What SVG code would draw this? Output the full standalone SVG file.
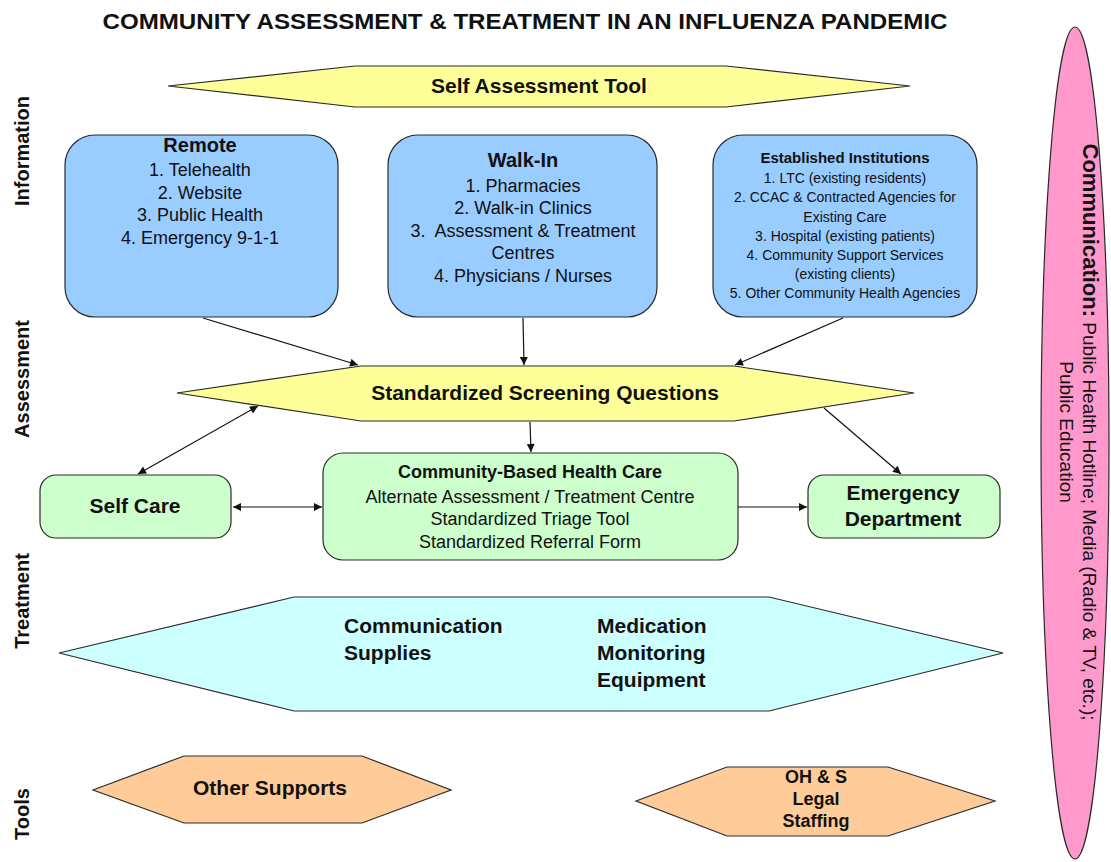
<svg xmlns="http://www.w3.org/2000/svg" width="1111" height="862" viewBox="0 0 1111 862">
<defs>
<style>
text{font-family:"Liberation Sans",Arial,sans-serif;fill:#111}
.b{font-weight:bold}
.c{text-anchor:middle}
.shape{stroke:#2a2a2a;stroke-width:1.2}
.blue{fill:#99ccff}
.yel{fill:#ffff99}
.grn{fill:#ccffcc}
.cyan{fill:#ccffff}
.org{fill:#ffcc99}
.pink{fill:#ff99cc}
.conn{stroke:#111;stroke-width:1.2;fill:none}
</style>
<marker id="ah" viewBox="0 0 10 10" refX="10" refY="5" markerWidth="10" markerHeight="8" markerUnits="userSpaceOnUse" orient="auto-start-reverse">
<path d="M0,0 L10,5 L0,10 z" fill="#111"/>
</marker>
</defs>
<rect width="1111" height="862" fill="#fff"/>

<text class="b c" x="525" y="29" font-size="22" textLength="845" lengthAdjust="spacingAndGlyphs">COMMUNITY ASSESSMENT &amp; TREATMENT IN AN INFLUENZA PANDEMIC</text>

<g id="lane-labels" class="b">
<text class="c" font-size="20" transform="translate(22,151) rotate(-90)" y="7">Information</text>
<text class="c" font-size="20" transform="translate(22,379) rotate(-90)" y="7">Assessment</text>
<text class="c" font-size="20" transform="translate(22,601) rotate(-90)" y="7">Treatment</text>
<text class="c" font-size="20" transform="translate(22,814) rotate(-90)" y="7">Tools</text>
</g>

<g id="communication">
<ellipse class="shape pink" cx="1075" cy="443" rx="34" ry="416"/>
<g transform="translate(1090,432) rotate(90)">
<text class="c" y="7" font-size="19"><tspan class="b" font-size="22">Communication:</tspan> Public Health Hotline; Media (Radio &amp; TV, etc.);</text>
<text class="c" y="30" font-size="19">Public Education</text>
</g>
</g>

<g id="self-assessment">
<polygon class="shape yel" points="168,86 355,66 726,66 910,86 726,107 355,107"/>
<text class="b c" x="539" y="93" font-size="21">Self Assessment Tool</text>
</g>

<g id="remote">
<rect class="shape blue" x="65" y="135" width="273" height="182" rx="30"/>
<text class="b c" x="200" y="152" font-size="20">Remote</text>
<text class="c" x="200" y="176" font-size="18">1. Telehealth</text>
<text class="c" x="200" y="199" font-size="18">2. Website</text>
<text class="c" x="200" y="221" font-size="18">3. Public Health</text>
<text class="c" x="200" y="244" font-size="18">4. Emergency 9-1-1</text>
</g>

<g id="walk-in">
<rect class="shape blue" x="388" y="135" width="269" height="182" rx="30"/>
<text class="b c" x="523" y="167" font-size="20">Walk-In</text>
<text class="c" x="523" y="192" font-size="18">1. Pharmacies</text>
<text class="c" x="523" y="214" font-size="18">2. Walk-in Clinics</text>
<text class="c" x="523" y="237" font-size="18" xml:space="preserve">3.  Assessment &amp; Treatment</text>
<text class="c" x="523" y="259" font-size="18">Centres</text>
<text class="c" x="523" y="282" font-size="18">4. Physicians / Nurses</text>
</g>

<g id="established">
<rect class="shape blue" x="713" y="135" width="264" height="182" rx="30"/>
<text class="b c" x="845" y="163" font-size="15">Established Institutions</text>
<text class="c" x="845" y="183" font-size="14">1. LTC (existing residents)</text>
<text class="c" x="845" y="202" font-size="14">2. CCAC &amp; Contracted Agencies for</text>
<text class="c" x="845" y="222" font-size="14">Existing Care</text>
<text class="c" x="845" y="241" font-size="14">3. Hospital (existing patients)</text>
<text class="c" x="845" y="260" font-size="14">4. Community Support Services</text>
<text class="c" x="845" y="279" font-size="14">(existing clients)</text>
<text class="c" x="845" y="298" font-size="14">5. Other Community Health Agencies</text>
</g>

<g id="screening">
<polygon class="shape yel" points="177,393 361,366 734,366 914,393 734,421 361,421"/>
<text class="b c" x="545" y="400" font-size="21">Standardized Screening Questions</text>
</g>

<g id="self-care">
<rect class="shape grn" x="40" y="475" width="191" height="63" rx="16"/>
<text class="b c" x="135" y="513" font-size="21">Self Care</text>
</g>

<g id="community-care">
<rect class="shape grn" x="323" y="453" width="415" height="107" rx="20"/>
<text class="b c" x="530" y="478" font-size="18">Community-Based Health Care</text>
<text class="c" x="530" y="503" font-size="18">Alternate Assessment / Treatment Centre</text>
<text class="c" x="530" y="525" font-size="18">Standardized Triage Tool</text>
<text class="c" x="530" y="548" font-size="18">Standardized Referral Form</text>
</g>

<g id="emergency">
<rect class="shape grn" x="808" y="475" width="192" height="63" rx="16"/>
<text class="b c" x="903" y="500" font-size="21">Emergency</text>
<text class="b c" x="903" y="526" font-size="21">Department</text>
</g>

<g id="treatment">
<polygon class="shape cyan" points="59,653 294,597 769,597 1003,653 769,711 294,711"/>
<text class="b" x="344" y="633" font-size="21">Communication</text>
<text class="b" x="344" y="660" font-size="21">Supplies</text>
<text class="b" x="597" y="633" font-size="21">Medication</text>
<text class="b" x="597" y="660" font-size="21">Monitoring</text>
<text class="b" x="597" y="687" font-size="21">Equipment</text>
</g>

<g id="other-supports">
<polygon class="shape org" points="93,790 184,756 362,756 451,790 362,823 184,823"/>
<text class="b c" x="270" y="795" font-size="21">Other Supports</text>
</g>

<g id="ohs">
<polygon class="shape org" points="636,801 727,767 888,767 995,801 888,836 727,836"/>
<text class="b c" x="816" y="783" font-size="18">OH &amp; S</text>
<text class="b c" x="816" y="805" font-size="18">Legal</text>
<text class="b c" x="816" y="827" font-size="18">Staffing</text>
</g>

<g id="connectors">
<line class="conn" x1="203" y1="318" x2="358" y2="365" marker-end="url(#ah)"/>
<line class="conn" x1="523" y1="318" x2="524" y2="365" marker-end="url(#ah)"/>
<line class="conn" x1="843" y1="318" x2="735" y2="365" marker-end="url(#ah)"/>
<line class="conn" x1="258" y1="406" x2="138" y2="474" marker-start="url(#ah)" marker-end="url(#ah)"/>
<line class="conn" x1="530" y1="422" x2="531" y2="452" marker-end="url(#ah)"/>
<line class="conn" x1="824" y1="408" x2="901" y2="474" marker-end="url(#ah)"/>
<line class="conn" x1="233" y1="507" x2="322" y2="507" marker-start="url(#ah)" marker-end="url(#ah)"/>
<line class="conn" x1="738" y1="507" x2="807" y2="507" marker-end="url(#ah)"/>
</g>
</svg>
